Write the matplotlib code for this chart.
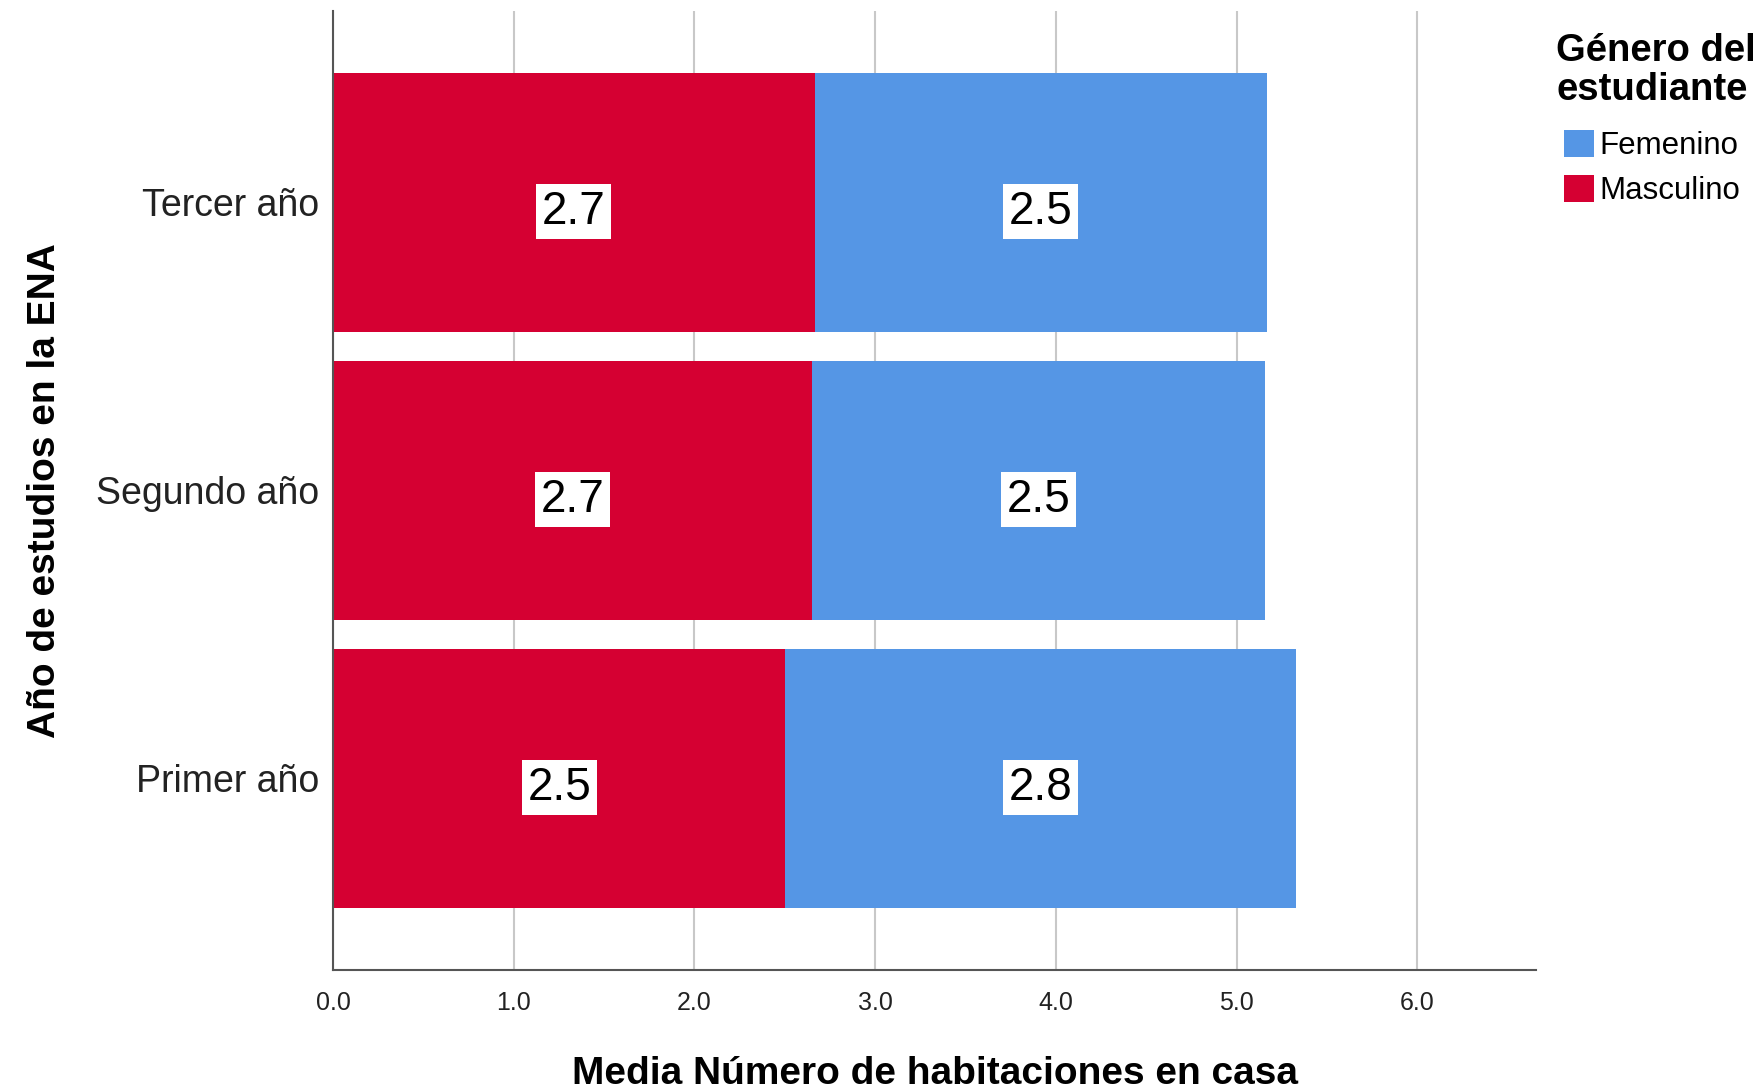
import matplotlib
matplotlib.use('Agg')
import matplotlib.pyplot as plt
from matplotlib.patches import Patch

plt.rcParams['font.family'] = ['Liberation Sans', 'DejaVu Sans']

# data
years = ['Tercer año', 'Segundo año', 'Primer año']
masculino = [2.665, 2.652, 2.503]
femenino = [2.503, 2.503, 2.826]
lab_masc = ['2.7', '2.7', '2.5']
lab_fem = ['2.5', '2.5', '2.8']
xticks = [0.0, 1.0, 2.0, 3.0, 4.0, 5.0, 6.0]

red = '#D50032'
blue = '#5596E5'

fig = plt.figure(figsize=(17.62, 10.91), dpi=100)
ax = fig.add_axes([0.189, 0.111, 0.683, 0.879])

ypos = list(range(len(years)))
ax.barh(ypos, masculino, height=0.9, color=red, zorder=2)
ax.barh(ypos, femenino, left=masculino, height=0.9, color=blue, zorder=2)

box = dict(facecolor='white', edgecolor='none', pad=4)
for i in ypos:
    ax.annotate(lab_masc[i], (masculino[i] / 2, i), xytext=(0, -3), textcoords='offset points',
                ha='center', va='center_baseline', fontsize=33, bbox=box, zorder=3)
    ax.annotate(lab_fem[i], (masculino[i] + femenino[i] / 2, i), xytext=(0, -3),
                textcoords='offset points', ha='center', va='center_baseline',
                fontsize=33, bbox=box, zorder=3)

ax.set_ylim(2.665, -0.665)
ax.set_xlim(0, 6.66)
ax.set_yticks(ypos)
ax.set_yticklabels(years, fontsize=27, color='#222222')
ax.set_xticks(xticks)
ax.set_xticklabels(['%.1f' % v for v in xticks], fontsize=18, color='#222222')
ax.tick_params(axis='both', length=0)
ax.tick_params(axis='y', pad=10)
ax.tick_params(axis='x', pad=15)

ax.grid(axis='x', color='#c8c8c8', linewidth=1.5, zorder=0)
ax.set_axisbelow(True)
for s in ['top', 'right']:
    ax.spines[s].set_visible(False)
for s in ['left', 'bottom']:
    ax.spines[s].set_color('#555555')
    ax.spines[s].set_linewidth(1.5)

ax.set_xlabel('Media Número de habitaciones en casa', fontsize=28, fontweight='bold', labelpad=30)
ax.set_ylabel('Año de estudios en la ENA', fontsize=28, fontweight='bold', labelpad=24)

handles = [Patch(facecolor=blue, label='Femenino'), Patch(facecolor=red, label='Masculino')]
leg = fig.legend(handles=handles, title='Género del\nestudiante', loc='upper left',
                 bbox_to_anchor=(0.876, 0.981), frameon=False, fontsize=22.5,
                 title_fontproperties={'weight': 'bold', 'size': 27.5},
                 handlelength=0.95, handleheight=0.95, handletextpad=0.45,
                 labelspacing=0.42, borderaxespad=0)
leg._legend_box.align = 'left'
leg._legend_box.sep = 16
leg.get_title().set_linespacing(1.1)
for h in leg.legend_handles:
    h.set_x(6)

fig.savefig('out.png', dpi=100)
